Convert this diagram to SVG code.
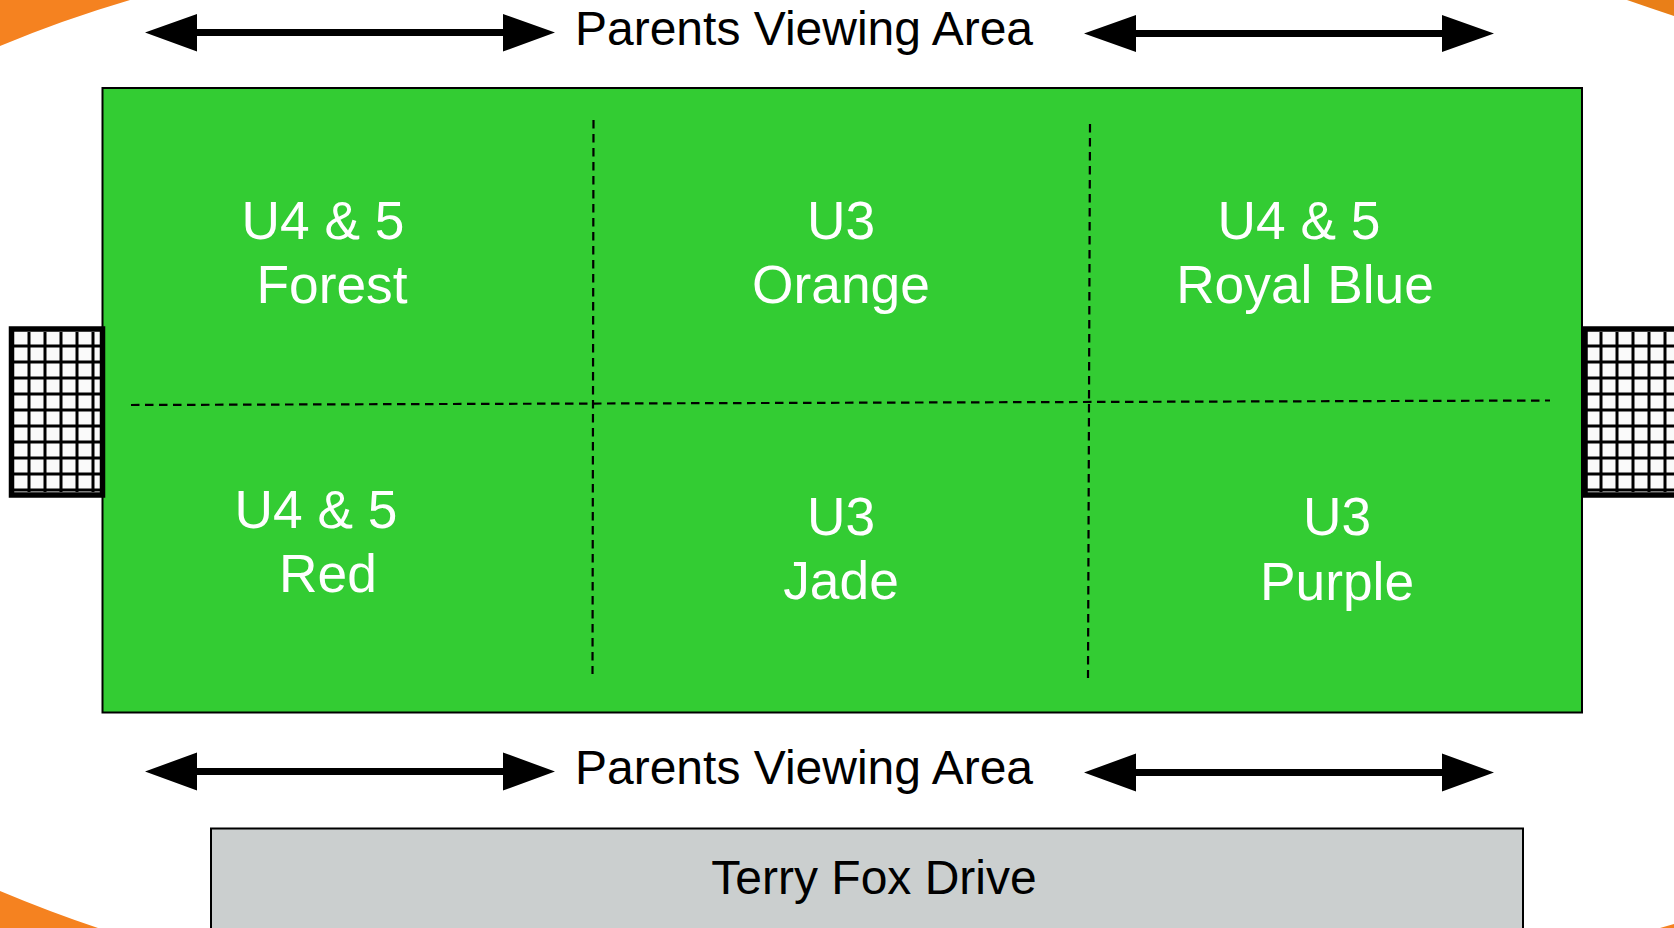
<svg xmlns="http://www.w3.org/2000/svg" width="1674" height="928" viewBox="0 0 1674 928">
<style>
text{font-family:"Liberation Sans",Arial,sans-serif;font-size:48px;text-anchor:middle}
.w{fill:#fff;font-size:53.3px}
.b{fill:#000}
.d{fill:none;stroke:#000;stroke-width:2.200;stroke-dasharray:8.500 5.500}
.g{stroke:#000;stroke-width:3;fill:none}
.o{fill:#F58220}
</style>
<rect width="1674" height="928" fill="#fff"/>
<path class="o" d="M0 0H130Q62 20 0 46Z"/>
<path d="M1627 0H1674V16Q1650 8 1627 0Z" fill="#E97F18"/>
<path class="o" d="M0 891Q50 912 98 928H0Z"/>
<path class="o" d="M1660 928Q1667 926 1674 924V928Z"/>
<g id="field"><rect x="102.500" y="88" width="1479.500" height="624.500" fill="#33CC33" stroke="#000" stroke-width="2"/></g>
<g id="goal-left">
<rect x="14" y="332" width="86" height="160" fill="#fafafa"/>
<path class="g" d="M29 332V492M45 332V492M61 332V492M77 332V492M93 332V492M14 346H100M14 362H100M14 378H100M14 394H100M14 410H100M14 426H100M14 442H100M14 458H100M14 474H100M14 490H100"/>
<rect x="11.500" y="329" width="91" height="166" fill="none" stroke="#000" stroke-width="5.500"/>
</g>
<g id="goal-right">
<rect x="1587" y="332" width="87" height="160" fill="#fafafa"/>
<path class="g" d="M1601 332V492M1617 332V492M1633 332V492M1649 332V492M1665 332V492M1587 346H1674M1587 362H1674M1587 378H1674M1587 394H1674M1587 410H1674M1587 426H1674M1587 442H1674M1587 458H1674M1587 474H1674M1587 490H1674"/>
<path d="M1674 329H1585V495H1674" fill="none" stroke="#000" stroke-width="5.500"/>
</g>
<g id="connectors">
<path class="d" d="M131 405L1550 400.500"/>
<path class="d" d="M593.500 120L592.500 674"/>
<path class="d" d="M1090 124L1088 678"/>
<path class="b" d="M145 32.500L197 14V29H503V14L555 32.500L503 51.500V36H197V51.500Z"/>
<path class="b" d="M1084 33.500L1136 15V30H1442V15L1494 33.500L1442 52V37H1136V52Z"/>
<path class="b" d="M145 771.500L197 752.500V768H503V752.500L555 771.500L503 790.500V775H197V790.500Z"/>
<path class="b" d="M1084 772.500L1136 753.500V769H1442V753.500L1494 772.500L1442 791.500V776H1136V791.500Z"/>
</g>
<g id="labels-top"><text x="804" y="45">Parents Viewing Area</text></g>
<g id="labels-bottom"><text x="804" y="784">Parents Viewing Area</text></g>
<g id="road"><path d="M211 928V828.500H1523V928" fill="#CBCFCF" stroke="#000" stroke-width="2"/><text x="874" y="894">Terry Fox Drive</text></g>
<g id="zone-1"><text class="w" x="323" y="239">U4 &amp; 5</text><text class="w" x="332" y="303">Forest</text></g>
<g id="zone-2"><text class="w" x="841" y="239">U3</text><text class="w" x="841" y="303">Orange</text></g>
<g id="zone-3"><text class="w" x="1299" y="239">U4 &amp; 5</text><text class="w" x="1305" y="303">Royal Blue</text></g>
<g id="zone-4"><text class="w" x="316" y="528">U4 &amp; 5</text><text class="w" x="328" y="592">Red</text></g>
<g id="zone-5"><text class="w" x="841" y="535">U3</text><text class="w" x="841" y="599">Jade</text></g>
<g id="zone-6"><text class="w" x="1337" y="535">U3</text><text class="w" x="1337" y="600">Purple</text></g>
</svg>
